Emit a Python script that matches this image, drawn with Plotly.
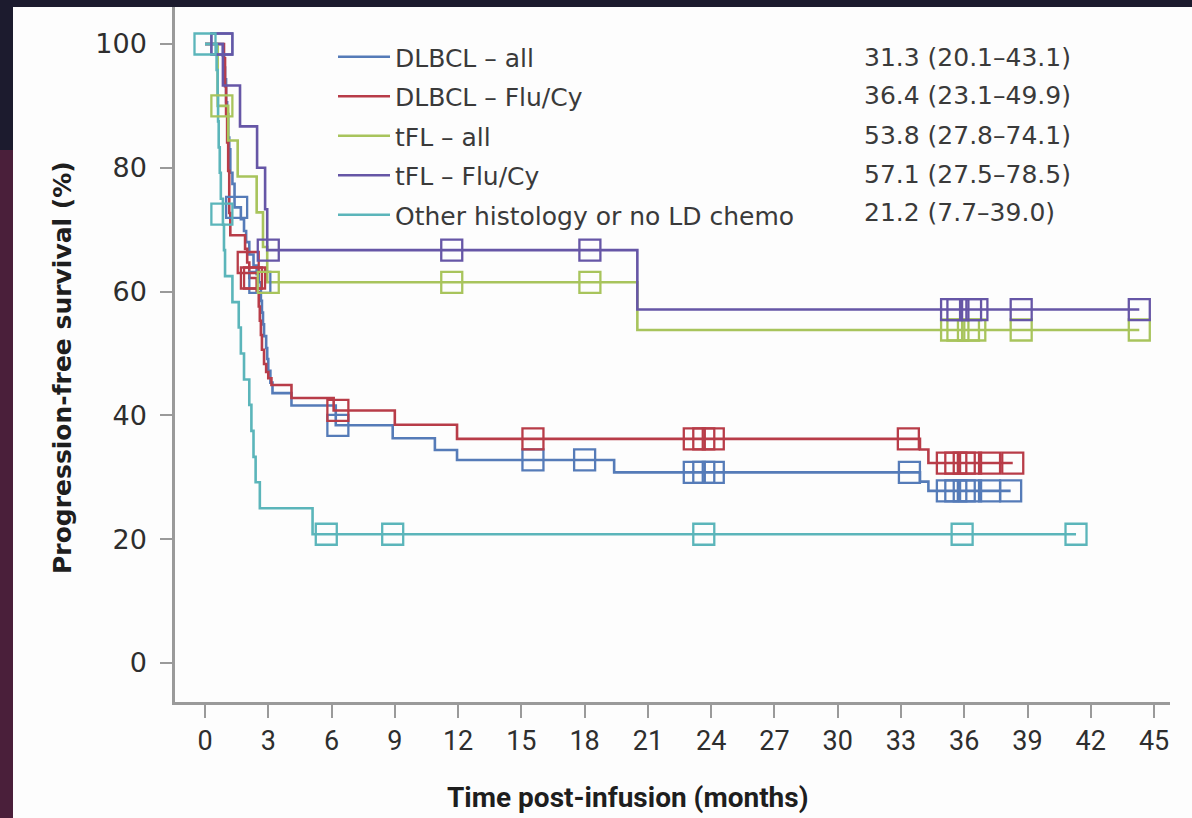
import plotly.graph_objects as go

# ---------------- data ----------------
series_names = ["DLBCL – all", "DLBCL – Flu/Cy", "tFL – all", "tFL – Flu/Cy",
                "Other histology or no LD chemo"]
series_stats = ["31.3 (20.1–43.1)", "36.4 (23.1–49.9)", "53.8 (27.8–74.1)",
                "57.1 (27.5–78.5)", "21.2 (7.7–39.0)"]
series_colors = ["#557bb8", "#b83c48", "#a8c45c", "#6656a6", "#5bb5ba"]

# DLBCL – all
blue_t = [0, 0.85, 0.9, 0.95, 1.0, 1.05, 1.1, 1.15, 1.2, 1.3, 1.4, 1.7, 1.85, 1.95, 2.1,
          2.3, 2.45, 2.55, 2.65, 2.7, 2.75, 2.8, 2.9, 2.95, 3.0, 3.1, 3.2, 4.1, 6.2, 8.9,
          10.9, 11.95, 19.4, 33.9, 34.3, 38.2]
blue_s = [100, 98.1, 96.2, 94.3, 90.6, 88.7, 84.9, 83.0, 79.2, 77.4, 73.6, 71.7, 69.8,
          68.0, 66.0, 64.2, 62.8, 61.5, 58.5, 56.6, 54.7, 52.8, 50.9, 49.1, 47.2, 45.3,
          43.6, 41.6, 38.4, 36.3, 34.4, 32.8, 30.8, 29.3, 27.8, 27.8]
blue_cens_t = [0.8, 1.5, 2.6, 6.3, 15.55, 18.0, 23.2, 23.65, 24.1, 33.4,
               35.2, 35.6, 36.0, 36.3, 37.2, 38.2]
blue_cens_s = [100, 73.6, 61.5, 38.4, 32.8, 32.8, 30.8, 30.8, 30.8, 30.8,
               27.8, 27.8, 27.8, 27.8, 27.8, 27.8]

# DLBCL – Flu/Cy
red_t = [0, 0.9, 0.95, 1.0, 1.05, 1.1, 1.15, 1.2, 1.9, 2.0, 2.1, 2.45, 2.55, 2.6, 2.65,
         2.7, 2.8, 2.9, 3.0, 3.15, 4.1, 6.1, 9.0, 11.95, 33.9, 34.3, 38.3]
red_s = [100, 97.7, 93.2, 88.6, 84.1, 79.5, 72.7, 69.1, 66.9, 64.7, 62.2, 59.9, 57.6,
         55.3, 53.0, 50.6, 48.3, 47.0, 46.0, 44.9, 42.8, 40.8, 38.5, 36.2, 34.5, 32.3, 32.3]
red_cens_t = [2.05, 2.2, 2.35, 6.3, 15.55, 23.2, 23.65, 24.1, 33.35,
              35.2, 35.6, 36.0, 36.3, 37.2, 38.3]
red_cens_s = [64.7, 62.2, 62.2, 40.8, 36.2, 36.2, 36.2, 36.2, 36.2,
              32.3, 32.3, 32.3, 32.3, 32.3, 32.3]

# tFL – all
green_t = [0, 0.6, 1.1, 1.55, 2.45, 2.75, 2.95, 20.5, 44.3]
green_s = [100, 90.0, 84.4, 78.6, 72.8, 67.2, 61.5, 53.8, 53.8]
green_cens_t = [0.8, 3.0, 11.7, 18.25, 35.4, 35.7, 36.2, 36.5, 38.7, 44.3]
green_cens_s = [90.0, 61.5, 61.5, 61.5, 53.8, 53.8, 53.8, 53.8, 53.8, 53.8]

# tFL – Flu/Cy
purple_t = [0, 0.85, 1.66, 2.47, 2.85, 2.95, 20.5, 44.3]
purple_s = [100, 93.3, 86.7, 80.0, 73.3, 66.7, 57.1, 57.1]
purple_cens_t = [0.8, 3.0, 11.7, 18.25, 35.4, 35.7, 36.3, 36.6, 38.7, 44.3]
purple_cens_s = [100, 66.7, 66.7, 66.7, 57.1, 57.1, 57.1, 57.1, 57.1, 57.1]

# Other histology or no LD chemo
cyan_t = [0, 0.55, 0.6, 0.62, 0.65, 0.7, 0.75, 0.85, 0.9, 0.95, 1.3, 1.6, 1.7, 1.85,
          2.1, 2.2, 2.3, 2.4, 2.6, 5.1, 41.3]
cyan_s = [100, 95.8, 91.7, 87.5, 83.3, 79.2, 75.0, 70.8, 66.7, 62.5, 58.3, 54.2, 50.0,
          45.8, 41.7, 37.5, 33.3, 29.2, 25.0, 20.8, 20.8]
cyan_cens_t = [0.0, 0.8, 5.75, 8.9, 23.65, 35.9, 41.3]
cyan_cens_s = [100, 72.5, 20.8, 20.8, 20.8, 20.8, 20.8]

x_ticks = list(range(0, 46, 3))
y_ticks = [0, 20, 40, 60, 80, 100]

curves = [
    (blue_t, blue_s, blue_cens_t, blue_cens_s),
    (red_t, red_s, red_cens_t, red_cens_s),
    (green_t, green_s, green_cens_t, green_cens_s),
    (purple_t, purple_s, purple_cens_t, purple_cens_s),
    (cyan_t, cyan_s, cyan_cens_t, cyan_cens_s),
]

# ---------------- figure ----------------
W, H = 1192, 818
L, R, T, B = 175, 22, 7, 116
pw, ph = W - L - R, H - T - B


def px_x(p):
    return (p - L) / pw


def px_y(p):
    return (H - B - p) / ph


fig = go.Figure()

for i, (t, s, ct, cs) in enumerate(curves):
    fig.add_trace(go.Scatter(
        x=t, y=s, mode="lines", line=dict(color=series_colors[i], width=2.6, shape="hv"),
        name=series_names[i], legendgroup=f"g{i}", showlegend=True, hoverinfo="skip"))
for i, (t, s, ct, cs) in enumerate(curves):
    fig.add_trace(go.Scatter(
        x=ct, y=cs, mode="markers",
        marker=dict(symbol="square-open", size=21, color=series_colors[i],
                    line=dict(width=2.3, color=series_colors[i])),
        showlegend=False, legendgroup=f"g{i}", hoverinfo="skip"))

shapes = [
    # white slide area
    dict(type="rect", xref="paper", yref="paper", layer="below",
         x0=px_x(13), x1=px_x(W + 5), y0=px_y(H + 5), y1=px_y(7),
         fillcolor="#fdfdfd", line=dict(width=0)),
    # left strip (reddish photo)
    dict(type="rect", xref="paper", yref="paper", layer="below",
         x0=px_x(-5), x1=px_x(13), y0=px_y(H + 5), y1=px_y(150),
         fillcolor="#4a1f3a", line=dict(width=0)),
]

TEXT_FONT = "DejaVu Sans, Open Sans, sans-serif"

annotations = []
row_y = [57, 96, 135, 174, 213]
for i, txt in enumerate(series_stats):
    annotations.append(dict(
        x=px_x(862), y=px_y(row_y[i]), xref="paper", yref="paper", text=txt,
        showarrow=False, xanchor="left", yanchor="middle",
        font=dict(family=TEXT_FONT, size=25, color="#3a3a3a")))

annotations.append(dict(
    x=px_x(628), y=px_y(797), xref="paper", yref="paper",
    text="<b>Time post-infusion (months)</b>", showarrow=False,
    xanchor="center", yanchor="middle",
    font=dict(family="Roboto, sans-serif", size=28, color="#1e1e1e")))
annotations.append(dict(
    x=px_x(62), y=px_y(368), xref="paper", yref="paper",
    text="<b>Progression-free survival (%)</b>", showarrow=False, textangle=-90,
    xanchor="center", yanchor="middle",
    font=dict(family=TEXT_FONT, size=25, color="#1e1e1e")))

fig.update_layout(
    width=W, height=H,
    margin=dict(l=L, r=R, t=T, b=B, pad=0),
    paper_bgcolor="#1c1b2e",
    plot_bgcolor="rgba(0,0,0,0)",
    shapes=shapes,
    annotations=annotations,
    showlegend=True,
    legend=dict(
        x=px_x(333), y=px_y(34), xanchor="left", yanchor="top",
        bgcolor="rgba(0,0,0,0)", borderwidth=0, tracegroupgap=4,
        itemwidth=52,
        font=dict(family=TEXT_FONT, size=25, color="#3a3a3a")),
    xaxis=dict(
        range=[(L - 205) / 21.09, (W - R - 205) / 21.09],
        tickvals=x_ticks, ticktext=[str(v) for v in x_ticks],
        showgrid=False, zeroline=False, showline=True, linecolor="#9a9a9a", linewidth=2.5,
        ticks="outside", ticklen=13, tickwidth=2, tickcolor="#9a9a9a",
        tickfont=dict(family="Roboto, sans-serif", size=27, color="#2e2e2e"),
        fixedrange=True),
    yaxis=dict(
        range=[(663 - (H - B)) / 6.19, (663 - T) / 6.19],
        tickvals=y_ticks, ticktext=[str(v) for v in y_ticks],
        showgrid=False, zeroline=False, showline=True, linecolor="#9a9a9a", linewidth=2.5,
        ticks="outside", ticklen=12, tickwidth=2, tickcolor="#9a9a9a",
        ticklabelstandoff=8,
        tickfont=dict(family=TEXT_FONT, size=27, color="#2e2e2e"),
        fixedrange=True),
)

fig.write_html("out.html")
